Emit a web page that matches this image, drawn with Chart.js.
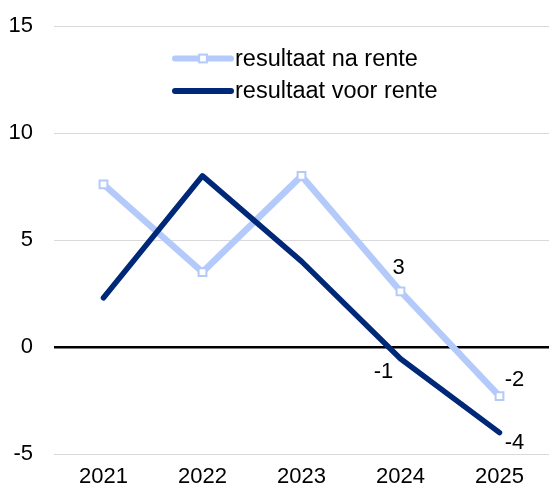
<!DOCTYPE html>
<html>
<head>
<meta charset="utf-8">
<script src="https://cdn.jsdelivr.net/npm/chart.js@4/dist/chart.umd.min.js"></script>
<style>
  html, body { margin: 0; padding: 0; background: #fff; overflow: hidden; }
  canvas { display: block; }
</style>
</head>
<body>
<canvas id="c" width="549" height="486"></canvas>
<script>
const categories = ['2021', '2022', '2023', '2024', '2025'];
const seriesNames = ['resultaat na rente', 'resultaat voor rente'];
const naRente = [7.6, 3.5, 8.0, 2.6, -2.3];
const voorRente = [2.3, 8.0, 4.0, -0.55, -4.0];
const yTicks = [-5, 0, 5, 10, 15];

const LIGHT = '#B3CAFA';
const DARK = '#002878';
const FONT = "'Liberation Sans', Arial, sans-serif";

// which points get a value label: [datasetIndex, pointIndex, dx, dy]
const labelSpots = [
  [0, 3, -2, -23],
  [0, 4, 15, -16],
  [1, 3, -17, 13],
  [1, 4, 15, 10]
];

const valueLabels = {
  id: 'valueLabels',
  afterDatasetsDraw(chart) {
    const ctx = chart.ctx;
    ctx.save();
    ctx.font = '22px ' + FONT;
    ctx.fillStyle = '#000';
    ctx.textAlign = 'center';
    ctx.textBaseline = 'middle';
    labelSpots.forEach(([di, pi, dx, dy]) => {
      const pt = chart.getDatasetMeta(di).data[pi];
      const v = chart.data.datasets[di].data[pi];
      ctx.fillText(String(Math.round(v)), pt.x + dx, pt.y + dy);
    });
    ctx.restore();
  }
};

const customLegend = {
  id: 'customLegend',
  afterDraw(chart) {
    const ctx = chart.ctx;
    ctx.save();
    const x0 = 175, x1 = 231, ys = [58.5, 91];
    chart.data.datasets.forEach((ds, i) => {
      const y = ys[i];
      ctx.strokeStyle = ds.borderColor;
      ctx.lineWidth = 6;
      ctx.lineCap = 'round';
      ctx.beginPath();
      ctx.moveTo(x0, y);
      ctx.lineTo(x1, y);
      ctx.stroke();
      if (ds.pointRadius > 0) {
        const s = ds.pointRadius * Math.SQRT1_2;
        const cx = (x0 + x1) / 2;
        ctx.fillStyle = '#fff';
        ctx.lineWidth = ds.pointBorderWidth;
        ctx.strokeStyle = ds.borderColor;
        ctx.fillRect(cx - s, y - s, 2 * s, 2 * s);
        ctx.strokeRect(cx - s, y - s, 2 * s, 2 * s);
      }
      ctx.fillStyle = '#000';
      ctx.font = '23.5px ' + FONT;
      ctx.textAlign = 'left';
      ctx.textBaseline = 'middle';
      ctx.fillText(ds.label, 235, y + 1);
    });
    ctx.restore();
  }
};

new Chart(document.getElementById('c'), {
  type: 'line',
  data: {
    labels: categories,
    datasets: [
      {
        label: seriesNames[0],
        data: naRente,
        borderColor: LIGHT,
        borderWidth: 6.5,
        borderCapStyle: 'round',
        borderJoinStyle: 'round',
        pointStyle: 'rect',
        pointRadius: 5.5,
        pointHoverRadius: 5.5,
        pointBorderWidth: 2,
        pointBackgroundColor: '#fff',
        pointBorderColor: LIGHT,
        tension: 0,
        clip: false,
        order: 2
      },
      {
        label: seriesNames[1],
        data: voorRente,
        borderColor: DARK,
        borderWidth: 5.5,
        borderCapStyle: 'round',
        borderJoinStyle: 'round',
        pointRadius: 0,
        pointHoverRadius: 0,
        tension: 0,
        clip: false,
        order: 1
      }
    ]
  },
  options: {
    responsive: false,
    animation: false,
    devicePixelRatio: 1,
    events: [],
    layout: { autoPadding: false, padding: { top: 26, right: 0, left: 0, bottom: 0 } },
    plugins: {
      legend: { display: false },
      tooltip: { enabled: false }
    },
    scales: {
      x: {
        offset: true,
        grid: { display: false, drawTicks: true, tickLength: 10 },
        border: { display: false },
        ticks: {
          color: '#000',
          font: { family: FONT, size: 22 },
          padding: 0,
          maxRotation: 0
        },
        afterFit(scale) {
          scale.height = 32;
          scale.paddingLeft = 0;
          scale.paddingRight = 0;
        }
      },
      y: {
        min: yTicks[0],
        max: yTicks[yTicks.length - 1],
        afterBuildTicks(scale) { scale.ticks = yTicks.map(v => ({ value: v })); },
        grid: {
          drawTicks: false,
          color: c => (c.tick && c.tick.value === 0) ? '#000' : '#D9D9D9',
          lineWidth: c => (c.tick && c.tick.value === 0) ? 2.5 : 1
        },
        border: { display: false },
        ticks: {
          color: '#000',
          font: { family: FONT, size: 22 },
          padding: 21
        },
        afterFit(scale) {
          scale.width = 54;
          scale.paddingTop = 0;
          scale.paddingBottom = 0;
        }
      }
    }
  },
  plugins: [valueLabels, customLegend]
});
</script>
</body>
</html>
